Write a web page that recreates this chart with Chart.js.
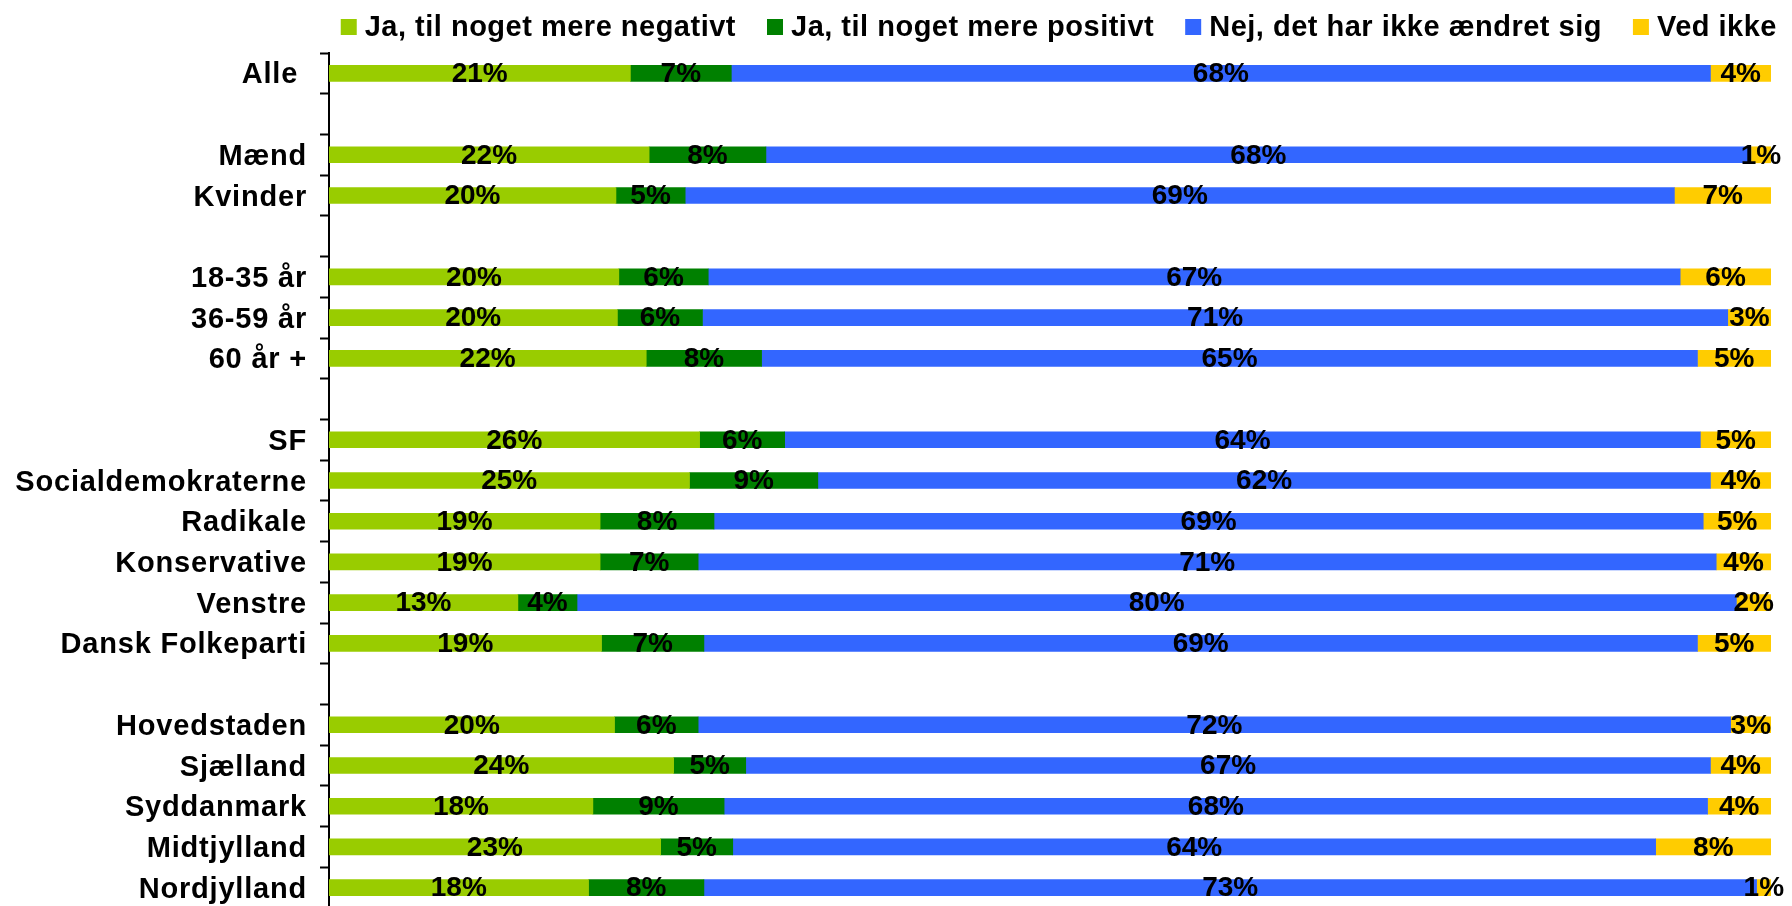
<!DOCTYPE html>
<html lang="da">
<head>
<meta charset="utf-8">
<title>Holdning</title>
<script src="https://cdn.jsdelivr.net/npm/chart.js@4.4.1/dist/chart.umd.min.js"></script>
<style>
  html, body { margin: 0; padding: 0; background: #fff; overflow: hidden; }
  #wrap { position: relative; width: 1792px; height: 908px; }
</style>
</head>
<body>
<div id="wrap"><canvas id="chart"></canvas></div>
<script>
var categories = ['Alle ', '', 'Mænd', 'Kvinder', '', '18-35 år', '36-59 år', '60 år +', '',
  'SF', 'Socialdemokraterne', 'Radikale', 'Konservative', 'Venstre', 'Dansk Folkeparti', '',
  'Hovedstaden', 'Sjælland', 'Syddanmark', 'Midtjylland', 'Nordjylland'];

var seriesNames = ['Ja, til noget mere negativt', 'Ja, til noget mere positivt',
  'Nej, det har ikke ændret sig', 'Ved ikke'];
var seriesColors = ['#99CC00', '#008000', '#3366FF', '#FFCC00'];

// andele i procent, tomme rækker = null
var negativ = [20.9, null, 22.2, 19.9, null, 20.1, 20.0, 22.0, null, 25.7, 25.0, 18.8, 18.8, 13.1, 18.9, null, 19.8, 23.9, 18.3, 23.0, 18.0];
var positiv = [7.0, null, 8.1, 4.8, null, 6.2, 5.9, 8.0, null, 5.9, 8.9, 7.9, 6.8, 4.1, 7.1, null, 5.8, 5.0, 9.1, 5.0, 8.0];
var uaendret = [67.9, null, 68.3, 68.6, null, 67.4, 71.1, 64.9, null, 63.5, 61.9, 68.6, 70.6, 80.4, 68.9, null, 71.6, 66.9, 68.2, 64.0, 73.0];
var vedIkke = [4.2, null, 1.4, 6.7, null, 6.3, 3.0, 5.1, null, 4.9, 4.2, 4.7, 3.8, 2.4, 5.1, null, 2.8, 4.2, 4.4, 8.0, 1.0];

(function () {
  'use strict';

  var FONT = "'Liberation Sans', Arial, sans-serif";
  var seriesData = [negativ, positiv, uaendret, vedIkke];

  var datasets = seriesData.map(function (values, i) {
    return {
      label: seriesNames[i],
      data: values,
      backgroundColor: seriesColors[i],
      borderWidth: 0,
      barThickness: 16
    };
  });

  // lidt luft mellem bogstaverne, som i originalen
  var spacing = {
    id: 'spacing',
    beforeDraw: function (chart) {
      chart.ctx.letterSpacing = '0.8px';
    }
  };

  // procenttal midt i hvert segment
  var valueLabels = {
    id: 'valueLabels',
    afterDatasetsDraw: function (chart) {
      var ctx = chart.ctx;
      ctx.save();
      ctx.letterSpacing = '0px';
      ctx.font = 'bold 28px ' + FONT;
      ctx.fillStyle = '#000';
      ctx.textAlign = 'center';
      ctx.textBaseline = 'middle';
      chart.data.datasets.forEach(function (ds, di) {
        chart.getDatasetMeta(di).data.forEach(function (bar, i) {
          var v = ds.data[i];
          if (v === null || v === undefined) {
            return;
          }
          ctx.fillText(Math.round(v) + '%', (bar.x + bar.base) / 2, bar.y + 1);
        });
      });
      ctx.restore();
    }
  };

  // forklaring øverst, højrestillet
  var topLegend = {
    id: 'topLegend',
    afterDraw: function (chart) {
      var ctx = chart.ctx;
      var box = 16, gap = 8, space = 31;
      ctx.save();
      ctx.letterSpacing = '0.5px';
      ctx.font = 'bold 29px ' + FONT;
      ctx.textBaseline = 'middle';
      ctx.textAlign = 'left';
      var widths = chart.data.datasets.map(function (ds) {
        return ctx.measureText(ds.label).width;
      });
      var total = widths.reduce(function (a, w) {
        return a + box + gap + w;
      }, 0) + space * (widths.length - 1);
      var x = chart.chartArea.right + 6 - total;
      var y = 27;
      chart.data.datasets.forEach(function (ds, i) {
        ctx.fillStyle = ds.backgroundColor;
        ctx.fillRect(x, y - 8, box, box);
        ctx.fillStyle = '#000';
        ctx.fillText(ds.label, x + box + gap, y + 1);
        x += box + gap + widths[i] + space;
      });
      ctx.restore();
    }
  };

  new Chart(document.getElementById('chart'), {
    type: 'bar',
    data: { labels: categories, datasets: datasets },
    plugins: [spacing, valueLabels, topLegend],
    options: {
      indexAxis: 'y',
      responsive: true,
      maintainAspectRatio: false,
      animation: false,
      layout: { padding: { top: 53, right: 21, bottom: 0, left: 0 } },
      plugins: {
        legend: { display: false },
        tooltip: { enabled: false }
      },
      scales: {
        x: {
          stacked: true,
          min: 0,
          max: 100,
          display: false
        },
        y: {
          stacked: true,
          afterFit: function (scale) {
            scale.width = 329;
            scale.paddingTop = 0;
            scale.paddingBottom = 0;
          },
          border: { display: true, color: '#000', width: 2 },
          grid: {
            offset: true,
            drawOnChartArea: false,
            drawTicks: true,
            tickLength: 9,
            tickWidth: 2,
            tickColor: '#000'
          },
          ticks: {
            color: '#000',
            padding: 13,
            labelOffset: 2,
            autoSkip: false,
            font: { family: FONT, size: 29, weight: 'bold' }
          }
        }
      }
    }
  });
})();
</script>
</body>
</html>
